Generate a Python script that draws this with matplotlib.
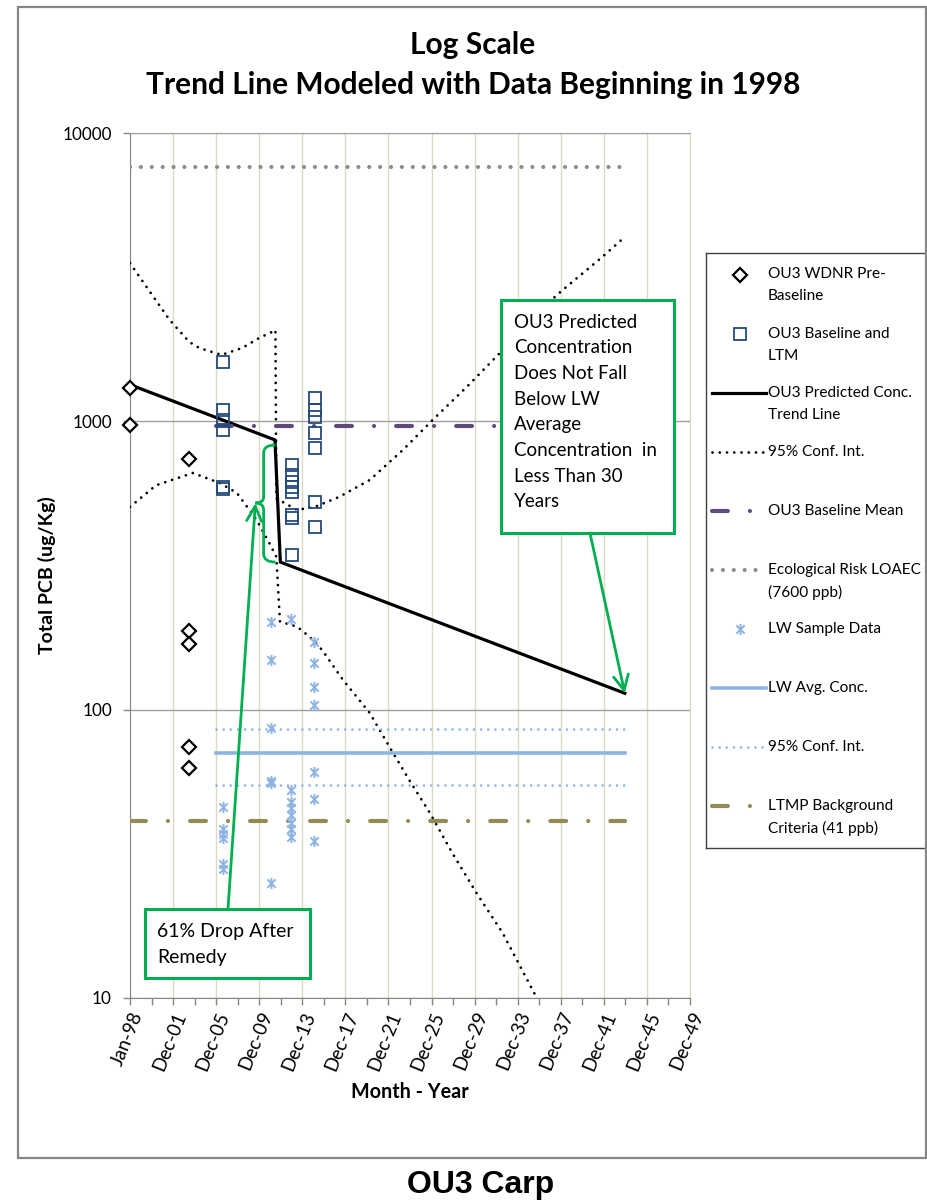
import numpy as np
import matplotlib.pyplot as plt
import matplotlib.dates as mdates
from matplotlib.path import Path
from matplotlib.patches import PathPatch, Rectangle

plt.rcParams['font.family'] = ['Lato', 'DejaVu Sans']


def dn(days):
    return mdates.date2num(np.array(days, dtype='datetime64[D]'))


# OU3 WDNR pre-baseline samples
pre_dates = dn(['1998-01-15'] * 2 + ['2003-07-01'] * 5)
pre_pcb = [1300, 970, 740, 187, 169, 74, 63]

# OU3 baseline and LTM samples
ltm_dates = dn(['2006-08-15'] * 6 + ['2013-01-15'] * 8 + ['2015-03-01'] * 7)
ltm_pcb = [1600, 1095, 1010, 935, 592, 583,
           706, 652, 616, 592, 569, 474, 462, 344,
           1205, 1095, 1036, 911, 808, 525, 430]

# LW sample data
lw_dates = dn(['2006-08-15'] * 6 + ['2011-01-15'] * 6 + ['2012-12-15'] * 8 + ['2015-02-01'] * 7)
lw_pcb = [46, 38.5, 37, 36, 29.2, 28,
          201, 149, 86.4, 56.6, 55.7, 25.1,
          206, 52.7, 47.9, 45.6, 43.1, 40.5, 38.6, 36.2,
          172, 145, 120, 104, 61, 49, 35]

# predicted concentration trend (drop at remedy)
trend_dates = dn(['1998-01-01', '2011-06-15', '2011-12-15', '2043-12-01'])
trend_pcb = [1340, 862, 325, 114]

# 95% confidence interval on the trend
upper_dates = dn(['1998-01-01', '1999-05-01', '2001-09-01', '2003-07-01', '2004-06-01',
                  '2006-07-01', '2008-06-01', '2010-01-01', '2011-03-01', '2011-07-01',
                  '2011-08-01', '2012-05-01', '2013-07-01', '2015-03-01', '2017-06-01',
                  '2020-04-01', '2023-05-01', '2026-02-01', '2029-04-01', '2032-05-01',
                  '2035-05-01', '2038-03-01', '2041-11-01', '2043-12-01'])
upper_pcb = [3540, 3000, 2250, 1886, 1797, 1700, 1797, 1947, 2040, 2075,
             540, 521, 493, 505, 547, 626, 796, 1011, 1316, 1727,
             2302, 2857, 3717, 4361]

lower_dates = dn(['1998-01-01', '2000-06-01', '2003-11-01', '2006-05-01', '2007-12-01',
                  '2009-10-01', '2010-12-01', '2011-08-01', '2011-12-01', '2012-05-01',
                  '2013-07-01', '2014-09-01', '2015-11-01', '2017-10-01', '2020-04-01',
                  '2022-02-01', '2023-12-01', '2025-11-01', '2027-12-01', '2030-03-01',
                  '2032-08-01', '2035-10-01'])
lower_pcb = [505, 600, 662, 611, 565, 455, 379, 339, 202, 200,
             194, 179, 161, 127, 97.4, 74.2, 57.0, 43.8, 31.8, 23.1,
             16.8, 10]

# reference levels
baseline_mean = 965
baseline_span = dn(['2005-12-30', '2032-02-01'])
eco_loaec = 7600
lw_avg = 71
lw_ci = [85.5, 55]
ltmp_bg = 41
ref_span = dn(['1998-01-01', '2043-12-01'])
lw_span = dn(['2005-12-30', '2043-12-01'])

drop_text = ['61% Drop After', 'Remedy']
note_text = ['OU3 Predicted', 'Concentration', 'Does Not Fall', 'Below LW', 'Average',
             'Concentration  in', 'Less Than 30', 'Years']

y_ticks = [10, 100, 1000, 10000]
y_ticklabels = ['10', '100', '1000', '10000']

green = '#00B050'
lightblue = '#8DB4E2'

ast = Path([(0, -1), (0, 1), (-0.75, -0.75), (0.75, 0.75), (-0.75, 0.75), (0.75, -0.75)],
           [Path.MOVETO, Path.LINETO] * 3)

# series styles, shared with the legend
s_pre = dict(ls='none', marker='D', ms=7, mfc='white', mec='black', mew=1.6)
s_ltm = dict(ls='none', marker='s', ms=9, mfc='none', mec='#244A7C', mew=1.3)
s_trend = dict(color='black', lw=2.3, solid_joinstyle='miter')
s_ci = dict(color='black', lw=2.0, ls=(0, (0.01, 2.6)), dash_capstyle='round')
s_mean = dict(color='#604A7B', lw=3.0, ls=(0, (3.8, 5.3, 0.01, 5.3)), dash_capstyle='round')
s_eco = dict(color='#8C8C8C', lw=3.0, ls=(0, (0.01, 2.6)), dash_capstyle='round')
s_lw = dict(ls='none', marker=ast, ms=8, mec=lightblue, mew=1.4)
s_lwavg = dict(color=lightblue, lw=2.6)
s_lwci = dict(color=lightblue, lw=1.9, ls=(0, (0.01, 2.7)), dash_capstyle='round')
s_ltmp = dict(color='#948A54', lw=3.0, ls=(0, (3.8, 5.3, 0.01, 5.3)), dash_capstyle='round')

W, H = 928, 1201
fig = plt.figure(figsize=(W / 100, H / 100), dpi=100)
ax = fig.add_axes([130 / W, 1 - 998 / H, 560 / W, 865 / H])

ax.plot(pre_dates, pre_pcb, zorder=4, clip_on=False, **s_pre)
ax.plot(ltm_dates, ltm_pcb, zorder=4, **s_ltm)
ax.plot(trend_dates, trend_pcb, zorder=3, **s_trend)
ax.plot(upper_dates, upper_pcb, zorder=3, **s_ci)
ax.plot(lower_dates, lower_pcb, zorder=3, **s_ci)
ax.plot(baseline_span, [baseline_mean] * 2, zorder=3, **s_mean)
ax.plot(ref_span, [eco_loaec] * 2, zorder=3, **s_eco)
ax.plot(lw_dates, lw_pcb, zorder=4, **s_lw)
ax.plot(lw_span, [lw_avg] * 2, zorder=3, **s_lwavg)
for v in lw_ci:
    ax.plot(lw_span, [v, v], zorder=3, **s_lwci)
ax.plot(ref_span, [ltmp_bg] * 2, zorder=3, **s_ltmp)

# axes
x0 = np.datetime64('1998-01-01')
major = mdates.date2num(x0 + np.arange(14) * np.timedelta64(1460, 'D'))
minor = mdates.date2num(x0 + np.arange(27) * np.timedelta64(730, 'D'))
ax.set_yscale('log')
ax.set_ylim(10, 10000)
ax.set_xlim(major[0], major[-1])
ax.set_xticks(major)
ax.set_xticks(minor, minor=True)
ax.xaxis.set_major_formatter(mdates.DateFormatter('%b-%y'))
ax.set_yticks(y_ticks)
ax.set_yticklabels(y_ticklabels)
ax.yaxis.set_minor_locator(plt.NullLocator())
ax.tick_params(axis='both', which='both', direction='out', length=5, color='#868686', width=1)
ax.tick_params(axis='y', labelsize=12.3, pad=8)
ax.tick_params(axis='x', labelsize=13.5, pad=3)
for lab in ax.get_xticklabels():
    lab.set_rotation(68)
    lab.set_ha('right')
    lab.set_rotation_mode('anchor')
ax.grid(axis='x', color='#DDD9C3', lw=1)
ax.grid(axis='y', color='#A0A0A0', lw=1)
ax.set_axisbelow(True)
for side in ['left', 'bottom']:
    ax.spines[side].set_color('#868686')
ax.spines['top'].set_color('#A0A0A0')
ax.spines['right'].set_color('#DDD9C3')

# remedy brace and callouts
xr = dn('2011-07-01')
xs = xr - 400
xt = xr - 680
brace = Path([(xr, 828), (xs, 828), (xs, 777), (xs, 547), (xs, 521), (xt, 521),
              (xs, 521), (xs, 493), (xs, 347), (xs, 325), (xr, 325)],
             [Path.MOVETO, Path.CURVE3, Path.CURVE3, Path.LINETO, Path.CURVE3, Path.CURVE3,
              Path.CURVE3, Path.CURVE3, Path.LINETO, Path.CURVE3, Path.CURVE3])
ax.add_patch(PathPatch(brace, fc='none', ec=green, lw=2, zorder=6))

arrow = dict(arrowstyle='->,head_length=0.6,head_width=0.3', color=green, lw=2,
             shrinkA=0, shrinkB=0, mutation_scale=18)

ax.add_patch(Rectangle((0.0268, 0.0231), 0.2946, 0.0798, transform=ax.transAxes,
                       fc='white', ec=green, lw=2.2, zorder=7))
for i, line in enumerate(drop_text):
    ax.text(0.0482, (998 - 932 - i * 26) / 865, line, transform=ax.transAxes,
            fontsize=14, va='center', zorder=8)
ax.annotate('', xy=(xt, 521), xytext=(0.175, 0.1029), textcoords='axes fraction',
            arrowprops=arrow, zorder=7)

ax.add_patch(Rectangle((0.6625, 0.5376), 0.3089, 0.2693, transform=ax.transAxes,
                       fc='white', ec=green, lw=2.2, zorder=7))
for i, line in enumerate(note_text):
    ax.text(0.6857, (998 - 322 - i * 25.7) / 865, line, transform=ax.transAxes,
            fontsize=13.5, va='center', zorder=8)
ax.annotate('', xy=(trend_dates[-1], trend_pcb[-1]), xytext=(0.8214, 0.5376),
            textcoords='axes fraction', arrowprops=arrow, zorder=7)

# titles and axis labels
fig.text(473 / W, 1 - 45 / H, 'Log Scale', ha='center', va='center', fontsize=21.5,
         fontweight='bold')
fig.text(473 / W, 1 - 85 / H, 'Trend Line Modeled with Data Beginning in 1998', ha='center',
         va='center', fontsize=21.5, fontweight='bold')
fig.text(47 / W, 1 - 575 / H, 'Total PCB (ug/Kg)', rotation=90, ha='center', va='center',
         fontsize=14, fontweight='bold')
fig.text(410 / W, 1 - 1092 / H, 'Month - Year', ha='center', va='center', fontsize=14.2,
         fontweight='bold')
fig.text(481 / W, 1 - 1185 / H, 'OU3 Carp', ha='center', va='center', fontsize=23,
         fontweight='heavy', family=['Liberation Sans Narrow', 'Liberation Sans'])

fig.patches.append(Rectangle((18 / W, 1 - 1158 / H), 908 / W, 1151 / H,
                             transform=fig.transFigure, fill=False, ec='#868686', lw=1.6))

# legend panel
lg = fig.add_axes([706 / W, 1 - 848 / H, 221 / W, 595 / H])
lg.set_xlim(706, 927)
lg.set_ylim(848, 253)
lg.set_xticks([])
lg.set_yticks([])
for sp in lg.spines.values():
    sp.set_color('#404040')
    sp.set_linewidth(1)

entries = [
    (['OU3 WDNR Pre-', 'Baseline'], s_pre),
    (['OU3 Baseline and', 'LTM'], s_ltm),
    (['OU3 Predicted Conc.', 'Trend Line'], s_trend),
    (['95% Conf. Int.'], s_ci),
    (['OU3 Baseline Mean'], s_mean),
    (['Ecological Risk LOAEC', '(7600 ppb)'], s_eco),
    (['LW Sample Data'], s_lw),
    (['LW Avg. Conc.'], s_lwavg),
    (['95% Conf. Int.'], s_lwci),
    (['LTMP Background', 'Criteria (41 ppb)'], s_ltmp),
]
for i, (lines, sty) in enumerate(entries):
    yy = 274.5 + 59.1 * i
    if sty.get('ls') == 'none':
        lg.plot([740], [yy], **sty)
    else:
        lg.plot([712, 766], [yy, yy], **sty)
    for j, line in enumerate(lines):
        lg.text(768, yy + 22 * j, line, fontsize=11.1, va='center')

fig.savefig('out.png', dpi=100)
